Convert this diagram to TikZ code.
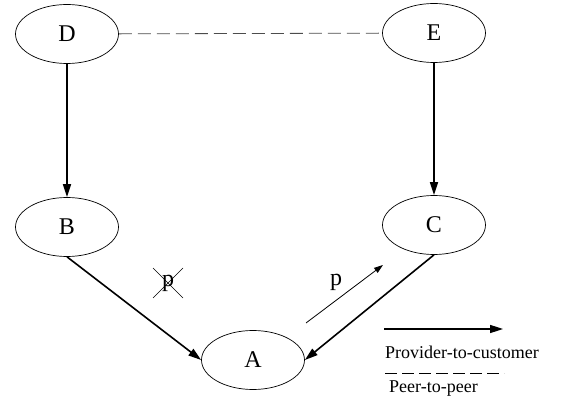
\documentclass[tikz,border=0pt]{standalone}
\usepackage{fontspec}
\setmainfont{Liberation Serif}
\usetikzlibrary{shapes.geometric,arrows.meta}
\begin{document}
\begin{tikzpicture}[x=1pt,y=-1pt,
  asnode/.style={ellipse,draw,line width=0.7pt,minimum width=103pt,minimum height=59pt,inner sep=0pt,font=\fontsize{24}{26}\selectfont},
  pc/.style={line width=1.6pt,-{Triangle[length=13pt,width=8pt]}},
  peer/.style={line width=0.8pt,dash pattern=on 13pt off 6pt,black!70},
  legtext/.style={anchor=west,inner sep=0pt,font=\fontsize{18}{20}\selectfont},
  plabel/.style={inner sep=0pt,font=\fontsize{24}{26}\selectfont},
  thinarrow/.style={line width=0.8pt,-{Triangle[length=9pt,width=6pt]}}]
\useasboundingbox (0,0) rectangle (563,409);
\node[asnode] (D) at (67,34) {D};
\node[asnode] (E) at (434,33) {E};
\node[asnode] (B) at (67,227) {B};
\node[asnode] (C) at (434,225) {C};
\node[asnode] (A) at (253,360) {A};
\draw[peer] (D) -- (E);
\draw[pc] (D) -- (B);
\draw[pc] (E) -- (C);
\draw[pc] (B.south) -- (A.west);
\draw[pc] (C.south) -- (A.east);
% crossed p
\node[plabel] (px) at (168,283) {p};
\draw[line width=0.6pt] ([shift={(-15,-15)}]px.center) -- ([shift={(15,15)}]px.center);
\draw[line width=0.6pt] ([shift={(15,-15)}]px.center) -- ([shift={(-15,15)}]px.center);
% p with arrow
\node[plabel] (p) at (336,282) {p};
\coordinate (ps) at (306,323);
\coordinate (pe) at (383,265);
\draw[thinarrow] (ps) -- (pe);
% legend
\coordinate (l1a) at (384,329);
\coordinate (l1b) at (503,329);
\draw[pc] (l1a) -- (l1b);
\node[legtext] (lt1) at (385,352) {Provider-to-customer};
\coordinate (l2a) at (385,373);
\coordinate (l2b) at (504,373);
\draw[line width=0.8pt,dash pattern=on 12pt off 5pt] (l2a) -- (l2b);
\node[legtext] (lt2) at (389,389) {Peer-to-peer};
\end{tikzpicture}
\end{document}
